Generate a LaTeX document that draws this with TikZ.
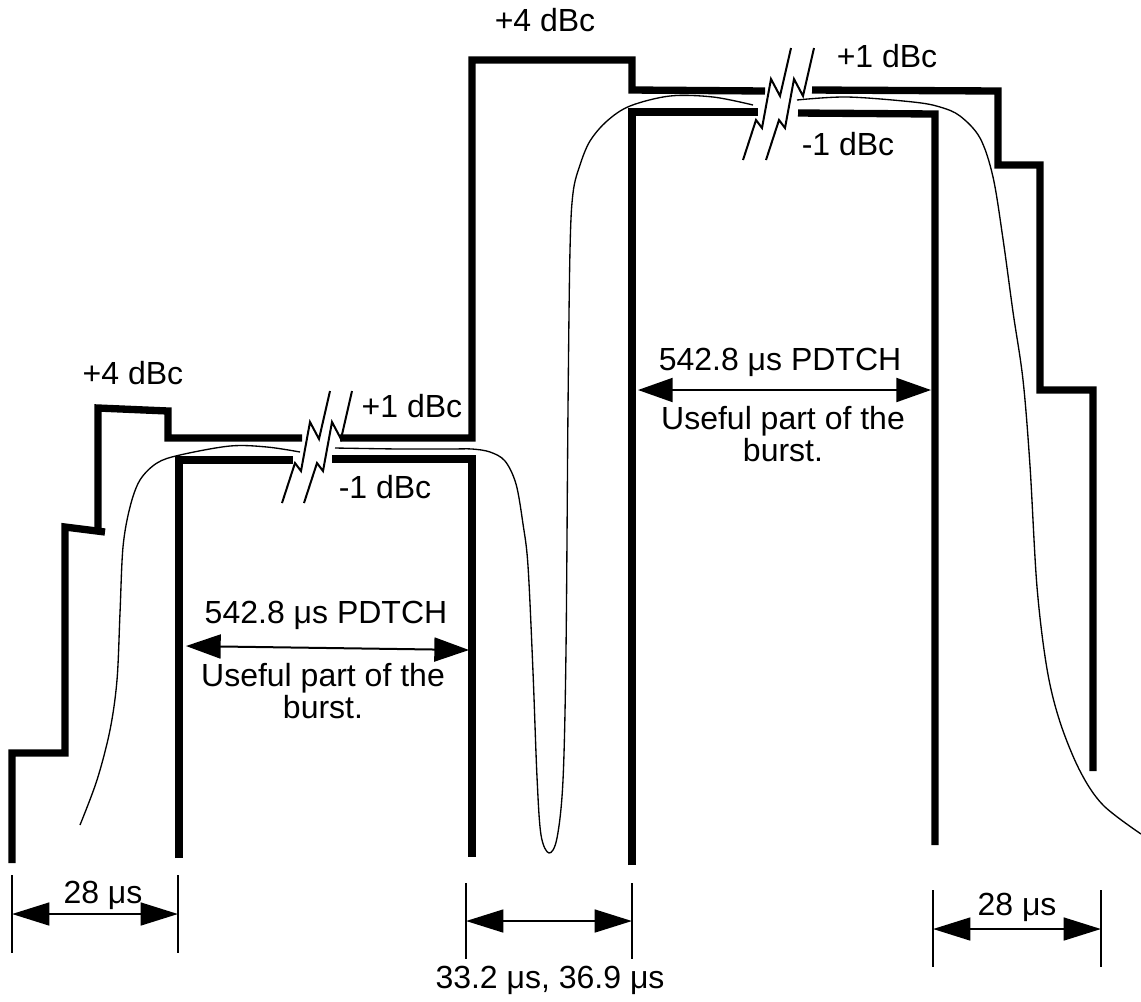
\documentclass[tikz,border=0pt]{standalone}
\usepackage{fontspec}
\setmainfont{Liberation Sans}
\usetikzlibrary{arrows.meta}
\tikzset{
  mask/.style={line width=5.5pt, line join=miter},
  sig/.style={line width=1pt, line join=round},
  brk/.style={line width=1.5pt},
  ext/.style={line width=1.5pt},
  dimarrow/.style={line width=2pt, {Triangle[length=28pt,width=17pt]}-{Triangle[length=28pt,width=17pt]}},
  usearrow/.style={line width=1.5pt, {Triangle[length=26pt,width=18pt]}-{Triangle[length=26pt,width=18pt]}},
  lbl/.style={font=\fontsize{24}{27.6}\selectfont, inner sep=0pt, anchor=base},
  zig/.pic={\draw[brk] (0,0) -- (13,-40) -- (19,-32) -- (28,-81) -- (37,-64) -- (48,-112);}
}
\begin{document}
\begin{tikzpicture}[x=0.75pt,y=-0.75pt]
\useasboundingbox (0,0) rectangle (1141,1001);
% upper (outer) mask
\draw[mask] (12,863) -- (12,753) -- (65,753) -- (65,527) -- (105,532);
\draw[mask] (98,532) -- (98,408) -- (168,411) -- (168,438) -- (302,438);
\draw[mask] (340,438) -- (472,438) -- (472,60) -- (632,60) -- (632,90) -- (765,91);
\draw[mask] (812,90) -- (998,91) -- (998,165) -- (1040,165) -- (1040,390) -- (1093,390) -- (1093,771);
% lower (inner) mask
\draw[mask] (179,858) -- (179,460) -- (293,460);
\draw[mask] (332,459) -- (472,459) -- (472,857);
\draw[mask] (632,865) -- (632,112) -- (758,112);
\draw[mask] (798,113) -- (935,114) -- (935,845);
% breaks
\pic at (282,503) {zig};
\pic at (304,503) {zig};
\pic at (743,160) {zig};
\pic at (766,160) {zig};
% signal curve
\draw[sig] plot[smooth, tension=0.55] coordinates {(80,825) (97,780) (110,730) (117,680) (120,613) (123,547) (130,507) (140,480) (157,463) (180,455) (230,446) (267,447) (300,452)};
\draw[sig] plot[smooth, tension=0.55] coordinates {(335,448) (400,449) (450,449) (472,449) (490,452) (505,461) (516,484) (523,524) (528,566) (533,672) (537,777) (541,835) (549,853) (557,838) (563,780) (566,650) (568,408) (570,250) (573,193) (580,165) (590,141) (607,121) (630,106) (670,96) (713,97) (753,105)};
\draw[sig] plot[smooth, tension=0.55] coordinates {(797,100) (847,97) (913,102) (940,107) (960,116) (980,138) (993,177) (1003,239) (1013,312) (1023,380) (1030,466) (1037,587) (1047,669) (1060,722) (1080,771) (1103,805) (1141,834)};
% level labels
\node[lbl] (p4top) at (545,31) {+4 dBc};
\node[lbl] (p1r) at (887,67) {+1 dBc};
\node[lbl] (m1r) at (848,155) {-1 dBc};
\node[lbl] (p4l) at (133,384) {+4 dBc};
\node[lbl] (p1l) at (412,417) {+1 dBc};
\node[lbl] (m1l) at (385,498) {-1 dBc};
% useful part, left
\coordinate (ul1) at (186,646);
\coordinate (ul2) at (469,650);
\draw[usearrow] (ul1) -- (ul2);
\node[lbl] (pdl) at (326,623) {542.8 μs PDTCH};
\node[lbl] (usl) at (323,686) {Useful part of the};
\node[lbl] (usl2) at (323,718) {burst.};
% useful part, right
\coordinate (ur1) at (638,390);
\coordinate (ur2) at (931,390);
\draw[usearrow] (ur1) -- (ur2);
\node[lbl] (pdr) at (780,370) {542.8 μs PDTCH};
\node[lbl] (usr) at (783,429) {Useful part of the};
\node[lbl] (usr2) at (783,461) {burst.};
% dimension: left 28 us
\coordinate (la1) at (12,875); \coordinate (la2) at (12,953);
\coordinate (lb1) at (178,875); \coordinate (lb2) at (178,953);
\draw[ext] (la1) -- (la2);
\draw[ext] (lb1) -- (lb2);
\coordinate (ld1) at (12,914); \coordinate (ld2) at (178,914);
\draw[dimarrow] (ld1) -- (ld2);
\node[lbl] (t28l) at (103,903) {28 μs};
% dimension: middle
\coordinate (ma1) at (466,883); \coordinate (ma2) at (466,959);
\coordinate (mb1) at (632,883); \coordinate (mb2) at (632,959);
\draw[ext] (ma1) -- (ma2);
\draw[ext] (mb1) -- (mb2);
\coordinate (md1) at (466,921); \coordinate (md2) at (632,921);
\draw[dimarrow] (md1) -- (md2);
\node[lbl] (tmid) at (550,988) {33.2 μs, 36.9 μs};
% dimension: right 28 us
\coordinate (ra1) at (933,890); \coordinate (ra2) at (933,967);
\coordinate (rb1) at (1101,890); \coordinate (rb2) at (1101,967);
\draw[ext] (ra1) -- (ra2);
\draw[ext] (rb1) -- (rb2);
\coordinate (rd1) at (933,929); \coordinate (rd2) at (1101,929);
\draw[dimarrow] (rd1) -- (rd2);
\node[lbl] (t28r) at (1017,915) {28 μs};
\end{tikzpicture}
\end{document}
